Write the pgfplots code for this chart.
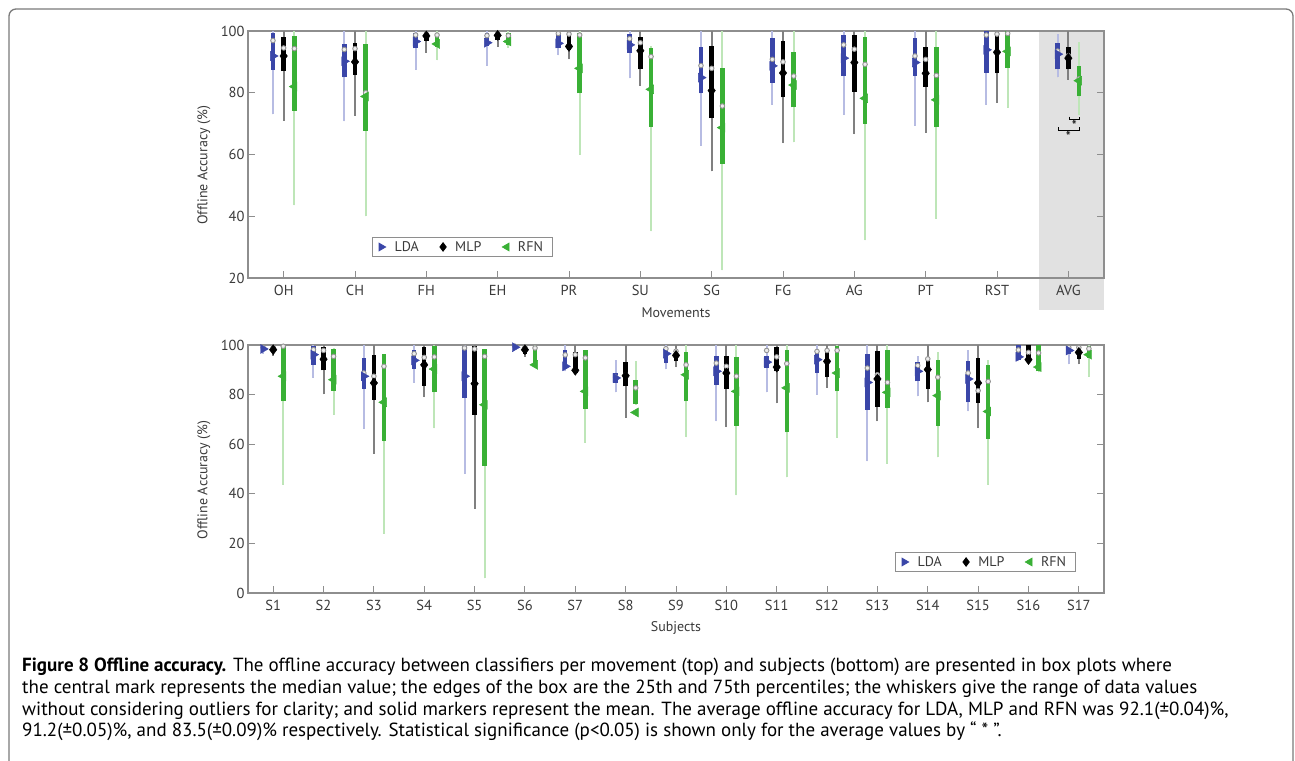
\documentclass[border=0pt]{standalone}
\usepackage{fontspec}
\setmainfont{PT Sans}
\usepackage{pgfplots}
\usepackage{pgfplotstable}
\pgfplotsset{compat=1.18}

\definecolor{ldac}{HTML}{3A46A8}
\definecolor{ldaw}{HTML}{B7BCE3}
\definecolor{mlpc}{HTML}{000000}
\definecolor{mlpw}{HTML}{808080}
\definecolor{rfnc}{HTML}{39B035}
\definecolor{rfnw}{HTML}{BEE6B8}
\definecolor{axc}{HTML}{8E8E8E}
\definecolor{txc}{HTML}{3A3A3A}
\definecolor{avgc}{HTML}{E1E1E1}
\definecolor{framec}{HTML}{7A7A7A}

\newcommand{\tickf}{\fontsize{14.5bp}{17bp}\selectfont}
\newcommand{\labf}{\fontsize{14bp}{17bp}\selectfont}
\newcommand{\capf}{\fontsize{19bp}{21.7bp}\selectfont}

% columns: x, lower whisker, q1, median, q3, upper whisker, mean
\pgfplotstableread{
x  lw    q1    med   q3    hw    mean
1  73.0  87.4  96.9  99.2  100   91.9
2  70.7  85.0  94.0  95.8  100   90.2
3  87.4  94.4  98.7  99.2  100   96.6
4  88.7  95.0  98.5  99.2  100   96.2
5  92.2  94.4  99.2  99.5  100   96.0
6  84.7  93.0  97.5  99.0  100   95.5
7  62.8  79.8  88.8  94.7  100   84.9
8  76.1  83.3  90.8  97.6  100   88.7
9  72.8  85.4  95.5  98.7  100   91.2
10 69.3  85.4  91.9  97.6  100   89.8
11 76.1  86.5  98.7  100   100   93.9
12 85.0  87.6  93.5  96.0  99.0  92.5
}\ldatop
\pgfplotstableread{
x  lw    q1    med   q3    hw    mean
1  71.0  87.0  94.5  98.0  100   91.9
2  72.5  85.8  94.3  96.2  100   90.0
3  93.0  96.9  99.0  99.5  100   98.4
4  94.9  97.1  99.0  99.5  100   98.6
5  90.8  94.0  99.0  99.5  100   95.0
6  82.3  87.6  96.2  98.0  100   93.6
7  54.5  71.8  87.9  95.1  100   80.7
8  63.7  78.5  90.0  96.9  100   86.4
9  66.6  80.4  94.1  98.7  100   89.8
10 67.1  82.0  90.8  94.7  100   86.3
11 76.8  86.3  99.0  99.5  100   93.1
12 84.2  87.6  92.0  94.7  100   91.2
}\mlptop
\pgfplotstableread{
x  lw    q1    med   q3    hw    mean
1  43.5  74.2  94.3  98.4  100   82.0
2  40.0  67.7  80.0  95.8  100   78.8
3  90.6  94.9  98.7  99.5  100   95.8
4  94.5  95.5  98.5  99.2  100   96.6
5  59.9  79.8  98.7  99.5  100   87.9
6  35.1  69.0  91.7  94.6  95.0  81.1
7  22.5  57.0  75.7  88.1  100   68.7
8  64.0  75.3  85.4  93.1  100   82.5
9  32.2  69.9  89.2  98.2  100   78.2
10 39.2  68.8  85.6  94.7  100   77.7
11 75.2  88.0  99.2  100   100   93.4
12 72.8  78.8  84.5  88.8  96.5  83.9
}\rfntop

\pgfplotstableread{
x  lw    q1    med   q3    hw    mean
1  96.5  97.5  99.0  99.7  100   98.4
2  86.7  92.0  98.1  99.5  100   96.1
3  66.3  82.3  88.7  94.8  100   87.4
4  84.7  90.3  96.5  97.8  100   93.8
5  48.1  78.6  98.8  99.7  100   87.4
6  98.0  98.5  99.5  100   100   99.1
7  89.4  90.3  96.0  97.8  100   91.4
8  80.9  84.7  87.0  88.7  94.1  86.7
9  90.3  92.7  98.5  98.8  100   96.5
10 69.2  84.0  92.7  95.7  100   89.4
11 80.9  90.7  97.8  95.4  100   93.1
12 80.0  88.7  97.4  98.1  100   94.1
13 53.1  73.9  90.7  96.5  100   84.9
14 79.3  85.3  91.7  93.0  95.7  89.4
15 73.2  76.9  88.7  93.4  98.1  86.3
16 93.4  94.0  98.0  100   100   95.2
17 92.3  96.5  99.0  99.7  100   97.8
}\ldabot
\pgfplotstableread{
x  lw    q1    med   q3    hw    mean
1  95.7  97.0  99.0  99.5  100   98.1
2  80.2  89.8  97.8  99.2  100   94.3
3  56.2  78.0  87.4  96.1  100   84.7
4  79.0  83.6  95.0  99.2  100   92.0
5  34.0  71.9  98.4  99.7  100   84.4
6  95.2  96.5  99.0  99.5  100   98.1
7  88.7  88.7  96.1  97.0  100   89.8
8  70.6  83.3  88.0  93.0  100   87.6
9  91.1  93.4  97.5  98.1  100   95.8
10 66.9  82.3  91.4  95.4  100   88.7
11 76.6  89.4  95.2  99.2  100   91.1
12 82.7  87.1  97.8  97.8  100   93.4
13 69.2  75.0  88.0  97.4  100   86.3
14 76.9  82.3  94.4  94.8  100   90.1
15 66.5  76.6  81.6  94.8  100   84.7
16 93.0  93.0  97.0  100   100   94.1
17 92.3  94.3  99.0  99.2  100   97.0
}\mlpbot
\pgfplotstableread{
x  lw    q1    med   q3    hw    mean
1  43.7  77.3  99.5  99.5  99.7  87.4
2  71.9  81.6  95.4  98.5  98.8  86.0
3  23.9  61.2  91.4  96.5  96.5  76.9
4  66.4  80.9  95.2  99.7  100   90.3
5  6.0   51.3  95.4  98.4  98.4  75.9
6  91.1  92.0  98.8  99.7  100   92.0
7  60.5  74.2  94.8  97.8  98.1  81.3
8  76.0  76.3  82.7  86.0  93.4  72.8
9  62.9  77.3  92.0  97.0  100   88.0
10 39.4  67.5  87.4  95.0  100   81.3
11 46.6  64.8  92.5  98.1  100   82.7
12 62.5  81.3  97.8  99.7  100   88.7
13 52.1  74.6  84.9  97.8  100   80.9
14 54.7  67.5  87.0  93.8  97.0  79.6
15 43.7  62.1  85.3  92.0  93.8  73.2
16 89.0  89.4  96.8  100   100   91.1
17 87.1  94.8  98.5  99.5  100   96.1
}\rfnbot

\pgfplotsset{
  whisker/.style={only marks, mark=*, mark size=0pt,
    mark options={draw=none, fill=none}, forget plot,
    error bars/.cd, y dir=plus, y explicit, error mark=none,
    error bar style={line width=2bp, draw=#1}},
  boxbar/.style={only marks, mark=*, mark size=0pt,
    mark options={draw=none, fill=none}, forget plot,
    error bars/.cd, y dir=plus, y explicit, error mark=none,
    error bar style={line width=4.5bp, draw=#1}},
  median/.style={only marks, forget plot, mark=*, mark size=2.3bp,
    mark options={draw=gray!85, fill=gray!15, line width=0.9bp}},
  ldamean/.style={only marks, mark=triangle*, mark size=5.2bp,
    mark options={rotate=-90, draw=ldac, fill=ldac}},
  mlpmean/.style={only marks, mark=diamond*, mark size=5bp,
    mark options={draw=mlpc, fill=mlpc}},
  rfnmean/.style={only marks, mark=triangle*, mark size=5.2bp,
    mark options={rotate=90, draw=rfnc, fill=rfnc}},
  panel/.style={
    scale only axis, width=856bp, xmin=0.5, clip=false,
    axis line style={draw=axc, line width=1.1bp},
    tick style={draw=axc, line width=1bp},
    major tick length=7bp, tick align=inside,
    ticklabel style={font=\tickf, text=txc},
    xticklabel style={anchor=center, yshift=-12.7bp},
    label style={font=\labf, text=txc},
    xlabel style={at={(axis description cs:0.5,0)}, anchor=center, yshift=-35bp},
    ylabel style={at={(axis description cs:0,0.456)}, anchor=center, yshift=44bp},
    /pgf/number format/assume math mode=true,
    ylabel={Offline Accuracy (\%)},
    legend columns=3,
    legend image post style={scale=0.85},
    legend style={anchor=center, draw=axc, line width=0.8bp, font=\labf,
      text=txc, inner xsep=7bp, inner ysep=2bp,
      /tikz/every odd column/.append style={column sep=7bp},
      /tikz/every even column/.append style={column sep=19bp}},
  }
}

% #1 table, #2 x offset, #3 whisker colour, #4 box colour, #5 mean style
\newcommand{\boxseries}[5]{%
  \addplot[whisker=#3] table[x expr=\thisrow{x}#2, y=lw,
    y error plus expr=\thisrow{hw}-\thisrow{lw}] {#1};
  \addplot[boxbar=#4] table[x expr=\thisrow{x}#2, y=q1,
    y error plus expr=\thisrow{q3}-\thisrow{q1}] {#1};
  \addplot[median] table[x expr=\thisrow{x}#2, y=med] {#1};
  \addplot[#5] table[x expr=\thisrow{x}#2, y=mean] {#1};
}

\begin{document}
\begin{tikzpicture}
\path[use as bounding box] (0,0) rectangle (1295bp,761bp);
\draw[framec, line width=1.3bp, rounded corners=7bp]
  (9bp,0bp) -- (9bp,752bp) -- (1293bp,752bp) -- (1293bp,0bp);
\fill[avgc] (1039bp,451bp) rectangle (1104bp,730bp);

\begin{axis}[panel, at={(248bp,483bp)}, anchor=south west,
  height=247bp, ymin=20, ymax=100, xmax=12.5,
  xtick={1,...,12}, xticklabels={OH,CH,FH,EH,PR,SU,SG,FG,AG,PT,RST,AVG},
  ytick={20,40,60,80,100}, xlabel={Movements},
  legend style={at={(0.25,0.1255)}}]
\boxseries{\ldatop}{-0.15}{ldaw}{ldac}{ldamean}
\boxseries{\mlptop}{+0}{mlpw}{mlpc}{mlpmean}
\boxseries{\rfntop}{+0.15}{rfnw}{rfnc}{rfnmean}
\legend{LDA,MLP,RFN}
\draw[black, line width=0.9bp] (axis cs:12.02,72.3) -- (axis cs:12.02,71.2)
  -- (axis cs:12.15,71.2) -- (axis cs:12.15,72.3);
\node[font=\labf, inner sep=0pt] at (axis cs:12.085,69.3) {*};
\draw[black, line width=0.9bp] (axis cs:11.86,68.8) -- (axis cs:11.86,67.7)
  -- (axis cs:12.15,67.7) -- (axis cs:12.15,68.8);
\node[font=\labf, inner sep=0pt] at (axis cs:12.0,65.8) {*};
\end{axis}

\begin{axis}[panel, at={(248bp,168bp)}, anchor=south west,
  height=248bp, ymin=0, ymax=100, xmax=17.5,
  xtick={1,...,17},
  xticklabels={S1,S2,S3,S4,S5,S6,S7,S8,S9,S10,S11,S12,S13,S14,S15,S16,S17},
  ytick={0,20,40,60,80,100}, xlabel={Subjects},
  legend style={at={(0.861,0.125)}}]
\boxseries{\ldabot}{-0.2}{ldaw}{ldac}{ldamean}
\boxseries{\mlpbot}{+0}{mlpw}{mlpc}{mlpmean}
\boxseries{\rfnbot}{+0.2}{rfnw}{rfnc}{rfnmean}
\legend{LDA,MLP,RFN}
\end{axis}

\node[anchor=north west, align=left, inner sep=0pt, font=\capf]
  at (22bp,103bp) {%
  \textbf{Figure 8 Offline accuracy.} The offline accuracy between classifiers per movement (top) and subjects (bottom) are presented in box plots where\\
  the central mark represents the median value; the edges of the box are the 25th and 75th percentiles; the whiskers give the range of data values\\
  without considering outliers for clarity; and solid markers represent the mean. The average offline accuracy for LDA, MLP and RFN was 92.1(±0.04)\%,\\
  91.2(±0.05)\%, and 83.5(±0.09)\% respectively. Statistical significance (p<0.05) is shown only for the average values by “ * ”.};
\end{tikzpicture}
\end{document}
